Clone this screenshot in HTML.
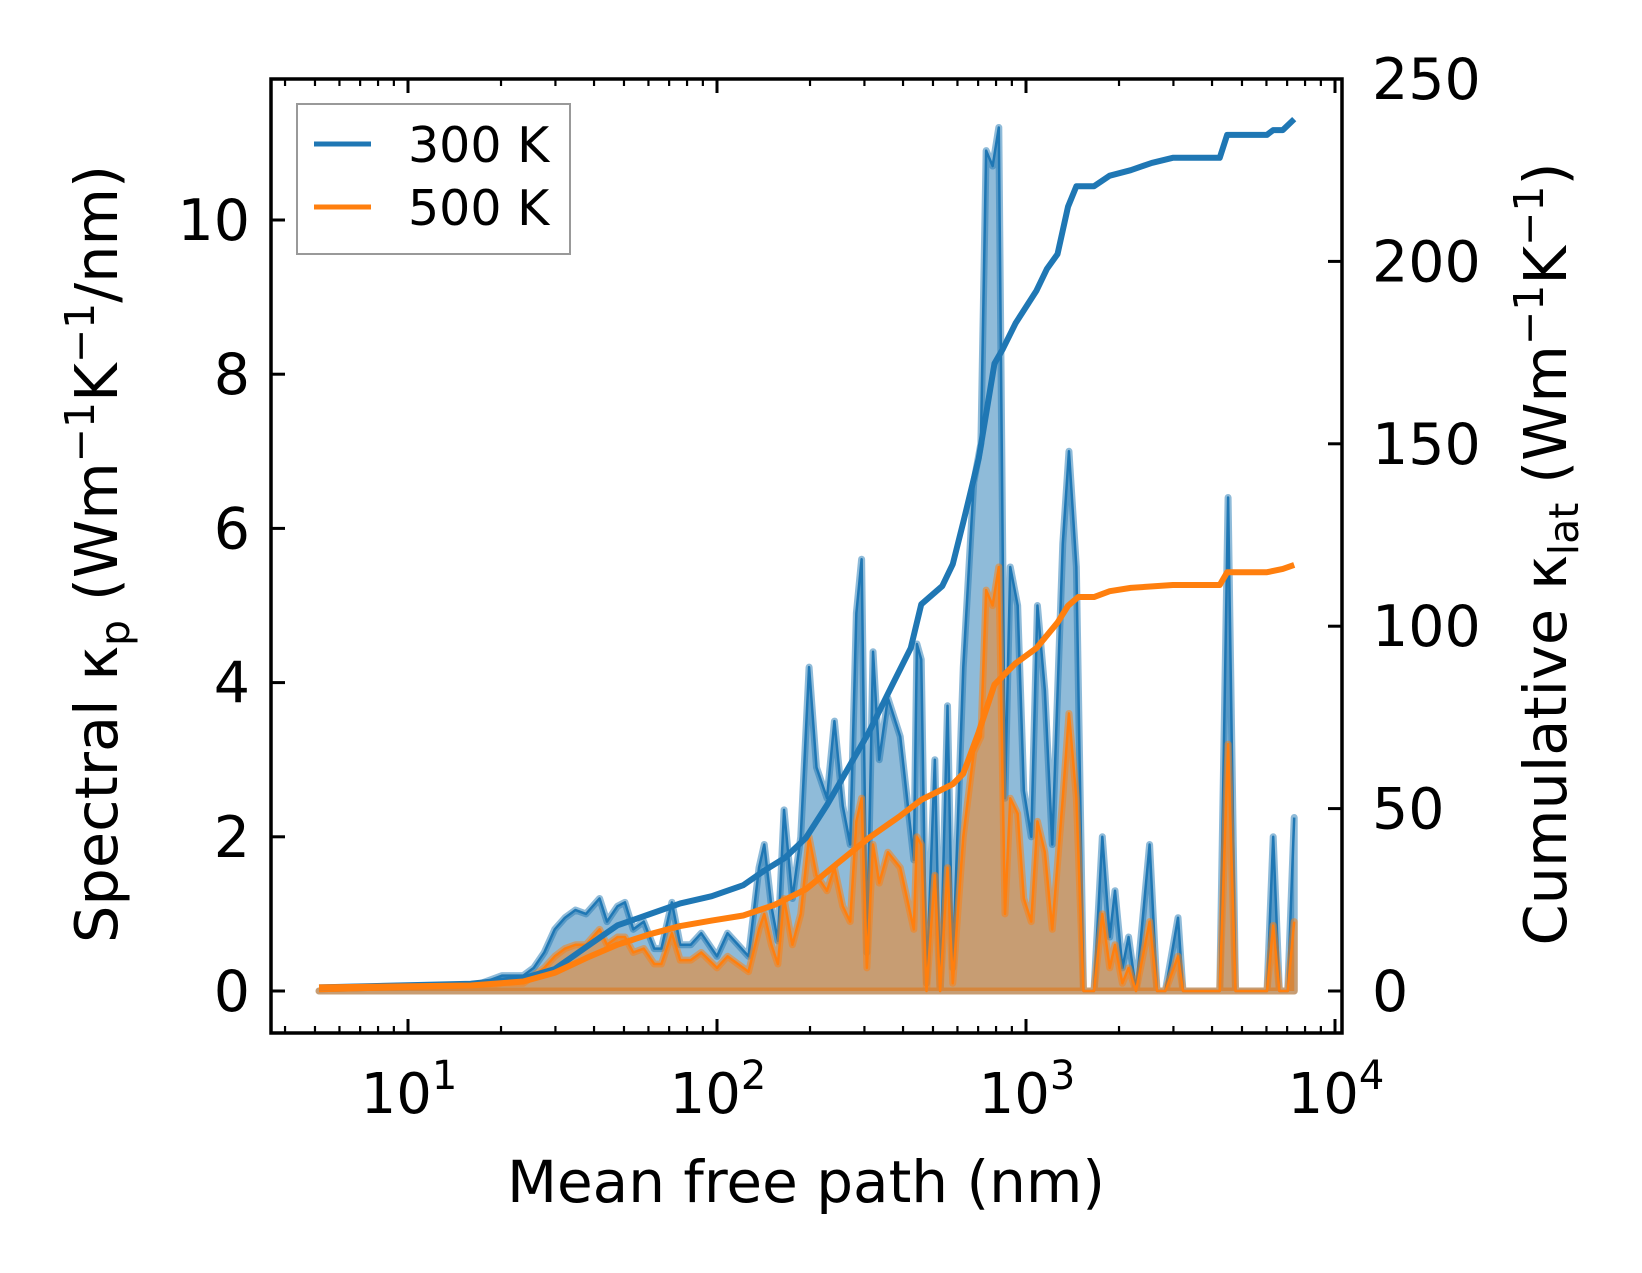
<!DOCTYPE html>
<html><head><meta charset="utf-8"><style>
html,body{margin:0;padding:0;background:#fff}
svg{display:block;font-family:"DejaVu Sans","Liberation Sans",sans-serif}
</style></head><body>
<svg id="chart" width="1642" height="1273" viewBox="0 0 1642 1273" xmlns="http://www.w3.org/2000/svg">
<rect width="1642" height="1273" fill="#fff"/>
<defs><clipPath id="clip"><rect x="271" y="79" width="1071" height="954"/></clipPath></defs>
<g id="marks" clip-path="url(#clip)"></g>
<g id="axes"></g>
</svg>
<script>
// log10 of mean free path (nm) for spectral data
const specLogX = [0.712,1.203,1.305,1.373,1.407,1.441,1.475,1.508,1.542,1.576,1.620,1.644,1.678,1.702,1.729,1.763,1.797,1.820,1.854,1.881,1.915,1.949,2.000,2.034,2.068,2.102,2.136,2.153,2.176,2.197,2.217,2.244,2.271,2.298,2.322,2.356,2.380,2.407,2.431,2.451,2.468,2.485,2.505,2.525,2.553,2.593,2.637,2.647,2.661,2.678,2.705,2.722,2.746,2.763,2.797,2.831,2.854,2.871,2.892,2.912,2.932,2.949,2.973,2.993,3.017,3.037,3.061,3.085,3.119,3.139,3.163,3.186,3.220,3.247,3.271,3.288,3.312,3.332,3.356,3.400,3.424,3.451,3.492,3.508,3.627,3.654,3.678,3.780,3.800,3.820,3.847,3.868];
const spec300 = [0,0.05,0.2,0.2,0.3,0.5,0.8,0.95,1.05,1.0,1.2,0.9,1.1,1.15,0.8,0.9,0.55,0.55,1.15,0.6,0.6,0.75,0.45,0.75,0.6,0.45,1.6,1.9,1.1,0.65,2.35,1.2,2.0,4.2,2.9,2.5,3.5,2.4,1.9,4.9,5.6,0.5,4.4,3.0,3.8,3.3,1.7,4.5,4.3,0.1,3.0,0,3.7,0.3,4.2,6.6,7.1,10.9,10.7,11.2,2.5,5.5,5.0,2.6,2.0,5.0,3.9,1.9,5.8,7.0,5.5,0,0,2.0,0.7,1.3,0.3,0.7,0,1.9,0,0,0.95,0,0,6.4,0,0,2.0,0,0,2.25];
const spec500 = [0,0.05,0.1,0.1,0.2,0.3,0.45,0.55,0.6,0.6,0.8,0.6,0.7,0.7,0.5,0.55,0.35,0.35,0.75,0.4,0.4,0.5,0.3,0.45,0.35,0.25,0.8,1.0,0.6,0.35,1.2,0.6,1.0,2.0,1.5,1.3,1.6,1.1,0.9,2.2,2.5,0.3,1.9,1.4,1.8,1.6,0.8,2.0,1.9,0,1.5,0,1.6,0.1,2.0,3.1,3.3,5.2,5.0,5.5,1.0,2.5,2.3,1.2,0.9,2.2,1.8,0.8,2.5,3.6,2.5,0,0,1.0,0.3,0.6,0.1,0.3,0,0.9,0,0,0.45,0,0,3.2,0,0,0.85,0,0,0.9];
// cumulative kappa
const cumLogX = [0.712,1.203,1.373,1.475,1.576,1.678,1.780,1.881,1.983,2.085,2.153,2.220,2.288,2.356,2.424,2.492,2.559,2.627,2.661,2.729,2.763,2.797,2.847,2.898,2.925,2.966,3.034,3.068,3.102,3.136,3.163,3.220,3.271,3.339,3.407,3.475,3.627,3.651,3.780,3.800,3.831,3.868];
const cum300 = [1,2,3.5,6,12,18,21,24,26,29,33,36.5,42,51,61,71,82.5,94,106,111,117,128.5,146,172,176,183,192,198,202,215,220.6,220.6,223.5,225,227,228.4,228.4,234.7,234.7,236,236,239];
const cum500X = [0.712,1.203,1.373,1.475,1.576,1.678,1.780,1.881,1.983,2.085,2.186,2.288,2.390,2.492,2.593,2.661,2.763,2.797,2.847,2.898,2.966,3.034,3.102,3.136,3.169,3.220,3.271,3.339,3.475,3.627,3.651,3.780,3.831,3.868];
const cum500 = [1,1.5,2.6,5,9,12.7,15.5,17.8,19.3,20.7,23.6,27.9,35,42,48,52.4,56.7,59.6,71,84,89.8,94,101,105.6,108,108,109.6,110.5,111.3,111.3,114.8,114.8,115.7,116.8];
const xTickExps = [1,2,3,4];
const yLeftTicks = [0,2,4,6,8,10];
const yRightTicks = [0,50,100,150,200,250];

const L=271,R=1342,T=79,B=1033;
const xs = lg => 408 + (lg-1)*309;
const yl = v => 991 - v*77.1;
const yr = v => 991 - v*3.648;
const NS="http://www.w3.org/2000/svg";
const marks=document.getElementById('marks'), axes=document.getElementById('axes');
function mk(tag, attrs, parent){const e=document.createElementNS(NS,tag);for(const k in attrs)e.setAttribute(k,attrs[k]);parent.appendChild(e);return e;}

function series(xArr,vals,color,name){
  let d='M'+xs(xArr[0])+','+yl(0);
  let ln='';
  xArr.forEach((x,i)=>{d+=' L'+xs(x)+','+yl(vals[i]);ln+=(i?' L':'M')+xs(x)+','+yl(vals[i]);});
  d+=' L'+xs(xArr[xArr.length-1])+','+yl(0)+' Z';
  const f=mk('path',{d:d,fill:color,'fill-opacity':0.5,stroke:color,'stroke-opacity':0.5,'stroke-width':7,'stroke-linejoin':'round'},marks);
  
  
  const l=mk('path',{d:ln,fill:'none',stroke:color,'stroke-width':2.5,'stroke-linejoin':'round'},marks);
  
  
}
series(specLogX,spec300,'#1f77b4','spectral-300k');
series(specLogX,spec500,'#ff7f0e','spectral-500k');
function cum(xArr,vals,color,name){
  let d='';xArr.forEach((x,i)=>{d+=(i?' L':'M')+xs(x)+','+yr(vals[i]);});
  const p=mk('path',{d:d,fill:'none',stroke:color,'stroke-width':6,'stroke-linejoin':'round'},marks);
  
  
}
cum(cumLogX,cum300,'#1f77b4','cumulative-300k');
cum(cum500X,cum500,'#ff7f0e','cumulative-500k');

const fr=mk('rect',{x:L,y:T,width:R-L,height:B-T,fill:'none',stroke:'#000','stroke-width':3.5},axes);


for(let e=0;e<=4;e++){for(let m=1;m<10;m++){const lg=e+Math.log10(m);const x=xs(lg);if(x<L+2||x>R-2)continue;const len=m===1?14:7;
 mk('line',{x1:x,y1:B,x2:x,y2:B-len,stroke:'#000','stroke-width':m===1?3:2.2},axes);
 mk('line',{x1:x,y1:T,x2:x,y2:T+len,stroke:'#000','stroke-width':m===1?3:2.2},axes);}}
xTickExps.forEach(e=>{const t=mk('text',{x:xs(e)+1,y:1113,'font-size':56,'text-anchor':'middle'},axes);
 t.textContent='10';const s=mk('tspan',{dy:-24,'font-size':40},t);s.textContent=e;
 
 });
yLeftTicks.forEach(v=>{const y=yl(v);mk('line',{x1:L,y1:y,x2:L+14,y2:y,stroke:'#000','stroke-width':3},axes);
 const t=mk('text',{x:250,y:y+20,'font-size':57,'text-anchor':'end'},axes);t.textContent=v;
 
 });
yRightTicks.forEach(v=>{const y=yr(v);mk('line',{x1:R,y1:y,x2:R-14,y2:y,stroke:'#000','stroke-width':3},axes);
 const t=mk('text',{x:1372,y:y+20,'font-size':57},axes);t.textContent=v;
 
 });
</script>
<svg style="position:absolute;left:0;top:0" width="1642" height="1273" xmlns="http://www.w3.org/2000/svg" font-family="DejaVu Sans, Liberation Sans, sans-serif">
<text x="806" y="1202" font-size="58" text-anchor="middle">Mean free path (nm)</text>
<text transform="translate(117,554) rotate(-90)" font-size="59" text-anchor="middle">Spectral κ<tspan font-size="41" dy="12">p</tspan><tspan dy="-12"> (Wm</tspan><tspan font-size="41" dy="-23">−1</tspan><tspan dy="23">K</tspan><tspan font-size="41" dy="-23">−1</tspan><tspan dy="23">/nm)</tspan></text>
<text transform="translate(1566,554) rotate(-90)" font-size="59" text-anchor="middle">Cumulative κ<tspan font-size="41" dy="12">lat</tspan><tspan dy="-12"> (Wm</tspan><tspan font-size="41" dy="-23">−1</tspan><tspan dy="23">K</tspan><tspan font-size="41" dy="-23">−1</tspan><tspan dy="23">)</tspan></text>
<g>
<rect x="297" y="104" width="273" height="150" fill="#fff" fill-opacity="0.8" stroke="#999" stroke-width="2"/>
<line x1="314" y1="144" x2="371" y2="144" stroke="#1f77b4" stroke-width="5"/>
<text x="408" y="162" font-size="49">300 K</text>
<line x1="314" y1="207" x2="371" y2="207" stroke="#ff7f0e" stroke-width="5"/>
<text x="408" y="225" font-size="49">500 K</text>
</g>
</svg>
</body></html>
